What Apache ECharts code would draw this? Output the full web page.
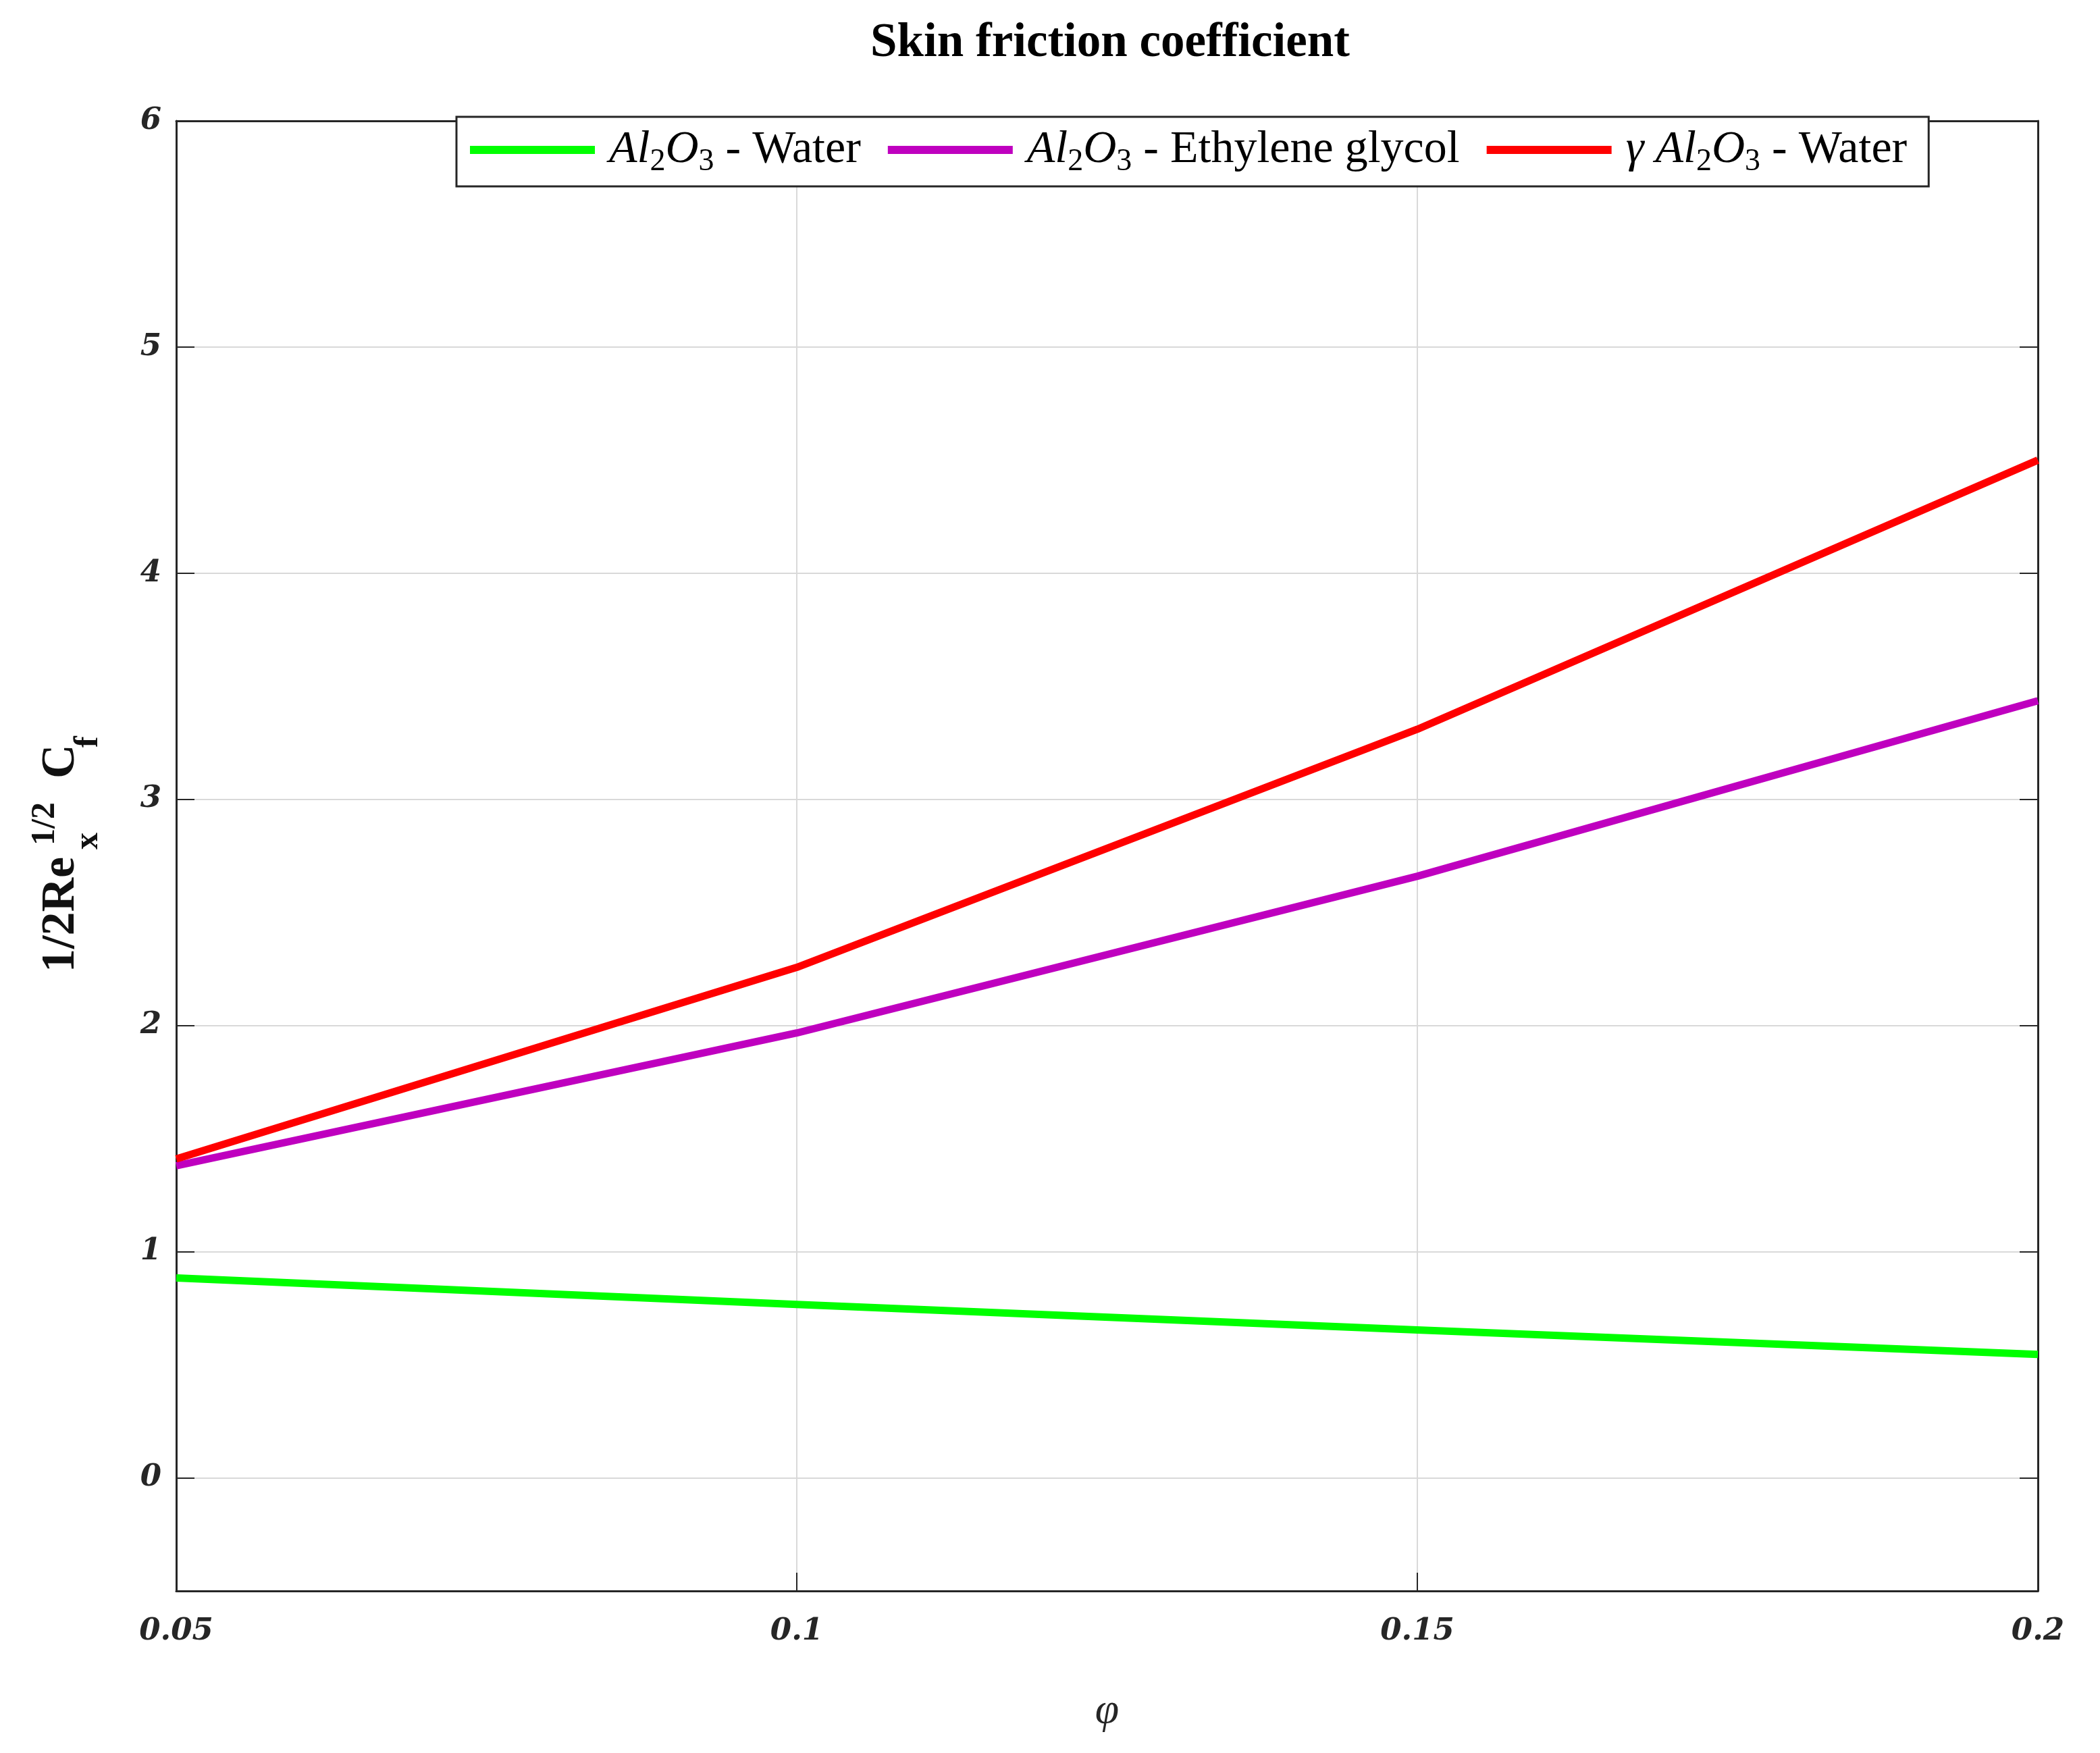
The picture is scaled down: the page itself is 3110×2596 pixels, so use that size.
<!DOCTYPE html>
<html><head><meta charset="utf-8">
<script src="https://cdn.jsdelivr.net/npm/echarts@6/dist/echarts.min.js"></script>
<style>html,body{margin:0;padding:0;background:#fff}#c{width:3110px;height:2596px}</style>
</head><body><div id="c"></div>
<script>
// ---- data ----
const phi = [0.05, 0.1, 0.15, 0.2];
const xTickValues = [0.05, 0.1, 0.15, 0.2];
const yTickValues = [0, 1, 2, 3, 4, 5, 6];
const seriesNames = ['Al2O3 - Water', 'Al2O3 - Ethylene glycol', 'γ Al2O3 - Water'];
const al2o3Water = [0.884, 0.767, 0.654, 0.546];
const al2o3Glycol = [1.38, 1.967, 2.66, 3.436];
const gammaAl2o3Water = [1.41, 2.257, 3.31, 4.50];
const seriesColors = ['#00ff00', '#bf00bf', '#ff0000'];
const chartTitle = 'Skin friction coefficient';
const xName = 'φ';

const legendRich = {
  'Al2O3 - Water': '{g|}{i|Al}{s|2}{i|O}{s|3}{n| - Water}',
  'Al2O3 - Ethylene glycol': '{g|}{i|Al}{s|2}{i|O}{s|3}{n| - Ethylene glycol}',
  'γ Al2O3 - Water': '{g|}{i|γ }{i|Al}{s|2}{i|O}{s|3}{n| - Water}'
};

const serif = '"Liberation Serif", "DejaVu Serif", serif';
const tickFont = '"DejaVu Serif", serif';
const axisColor = '#262626';

function pairs(ys) { return phi.map((x, i) => [x, ys[i]]); }
const allSeries = [al2o3Water, al2o3Glycol, gammaAl2o3Water];

const chart = echarts.init(document.getElementById('c'), null, {renderer: 'canvas'});
const option = {
  backgroundColor: '#ffffff',
  animation: false,
  title: {
    text: chartTitle,
    left: 1639,
    top: 24,
    textAlign: 'center',
    textStyle: {fontFamily: serif, fontWeight: 'bold', fontSize: 71, color: '#000'}
  },
  grid: {left: 261, right: 92, top: 179, bottom: 240, containLabel: false},
  legend: {
    data: seriesNames,
    left: 676,
    top: 173,
    padding: [15, 32, 13, 20],
    itemGap: 40,
    itemWidth: 185,
    itemHeight: 12,
    icon: 'rect',
    backgroundColor: '#ffffff',
    borderColor: axisColor,
    borderWidth: 3,
    z: 10,
    formatter: name => legendRich[name],
    textStyle: {
      color: '#000',
      fontFamily: serif,
      fontSize: 68,
      rich: {
        g: {width: 16, fontSize: 68},
        i: {fontFamily: serif, fontStyle: 'italic', fontSize: 68, color: '#000'},
        s: {fontFamily: serif, fontSize: 46, padding: [36, 0, 0, 0], color: '#000'},
        n: {fontFamily: serif, fontSize: 68, color: '#000'}
      }
    }
  },
  xAxis: [{
    type: 'value', position: 'bottom', min: 0.05, max: 0.2, interval: 0.05,
    name: xName, nameLocation: 'middle', nameGap: 146,
    nameTextStyle: {fontFamily: serif, fontStyle: 'italic', fontSize: 64, color: axisColor},
    axisLine: {show: true, onZero: false, lineStyle: {color: axisColor, width: 3}},
    axisTick: {show: true, inside: true, length: 27, lineStyle: {color: axisColor, width: 2}},
    axisLabel: {show: true, margin: 38, fontFamily: tickFont, fontStyle: 'italic', fontWeight: 'bold', fontSize: 45, color: axisColor,
      formatter: v => String(+v.toFixed(2))},
    splitLine: {show: true, lineStyle: {color: '#d9d9d9', width: 2}}
  }, {
    type: 'value', position: 'top', min: 0.05, max: 0.2, interval: 0.05,
    axisLine: {show: true, onZero: false, lineStyle: {color: axisColor, width: 3}},
    axisTick: {show: true, inside: true, length: 27, lineStyle: {color: axisColor, width: 2}},
    axisLabel: {show: false},
    splitLine: {show: false}
  }],
  yAxis: [{
    type: 'value', position: 'left', min: -0.5, max: 6,
    axisLine: {show: true, onZero: false, lineStyle: {color: axisColor, width: 3}},
    axisTick: {show: true, inside: true, length: 27, customValues: yTickValues, lineStyle: {color: axisColor, width: 2}},
    axisLabel: {show: true, margin: 22, customValues: yTickValues, fontFamily: tickFont, fontStyle: 'italic', fontWeight: 'bold', fontSize: 45, color: axisColor},
    splitLine: {show: true, lineStyle: {color: '#d9d9d9', width: 2}}
  }, {
    type: 'value', position: 'right', min: -0.5, max: 6,
    axisLine: {show: true, onZero: false, lineStyle: {color: axisColor, width: 3}},
    axisTick: {show: true, inside: true, length: 27, customValues: yTickValues, lineStyle: {color: axisColor, width: 2}},
    axisLabel: {show: false},
    splitLine: {show: false}
  }],
  series: seriesNames.map((n, k) => ({
    name: n, type: 'line', xAxisIndex: 0, yAxisIndex: 0,
    data: pairs(allSeries[k]),
    showSymbol: false, symbol: 'none',
    lineStyle: {color: seriesColors[k], width: 11, cap: 'butt', join: 'round'},
    itemStyle: {color: seriesColors[k]},
    z: 3 + k
  })),
  graphic: [{
    type: 'group', x: 91, y: 1440, rotation: Math.PI / 2,
    children: [
      {type: 'text', x: 0, y: 0, style: {text: '1/2Re', fontFamily: serif, fontWeight: 'bold', fontSize: 70, fill: '#111', align: 'left', verticalAlign: 'middle'}},
      {type: 'text', x: 188, y: -24, style: {text: '1/2', fontFamily: serif, fontWeight: 'bold', fontSize: 50, fill: '#111', align: 'left', verticalAlign: 'middle'}},
      {type: 'text', x: 182, y: 40, style: {text: 'x', fontFamily: serif, fontWeight: 'bold', fontSize: 50, fill: '#111', align: 'left', verticalAlign: 'middle'}},
      {type: 'text', x: 287, y: 0, style: {text: 'C', fontFamily: serif, fontWeight: 'bold', fontSize: 70, fill: '#111', align: 'left', verticalAlign: 'middle'}},
      {type: 'text', x: 333, y: 40, style: {text: 'f', fontFamily: serif, fontWeight: 'bold', fontSize: 50, fill: '#111', align: 'left', verticalAlign: 'middle'}}
    ]
  }]
};
chart.setOption(option);
</script>
</body></html>
